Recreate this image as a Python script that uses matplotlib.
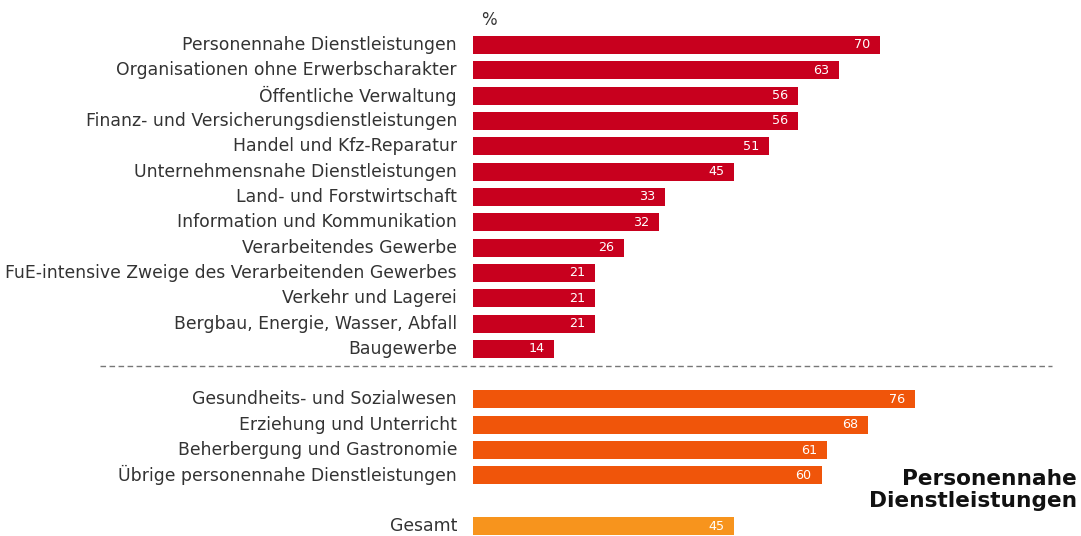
import matplotlib
matplotlib.use("Agg")
import matplotlib.pyplot as plt

categories = [
    "Personennahe Dienstleistungen",
    "Organisationen ohne Erwerbscharakter",
    "Öffentliche Verwaltung",
    "Finanz- und Versicherungsdienstleistungen",
    "Handel und Kfz-Reparatur",
    "Unternehmensnahe Dienstleistungen",
    "Land- und Forstwirtschaft",
    "Information und Kommunikation",
    "Verarbeitendes Gewerbe",
    "FuE-intensive Zweige des Verarbeitenden Gewerbes",
    "Verkehr und Lagerei",
    "Bergbau, Energie, Wasser, Abfall",
    "Baugewerbe",
]
values = [70, 63, 56, 56, 51, 45, 33, 32, 26, 21, 21, 21, 14]

sub_categories = [
    "Gesundheits- und Sozialwesen",
    "Erziehung und Unterricht",
    "Beherbergung und Gastronomie",
    "Übrige personennahe Dienstleistungen",
]
sub_values = [76, 68, 61, 60]

total_label = "Gesamt"
total_value = 45

title = "Personennahe\nDienstleistungen"

RED = "#C8001E"
ORANGE = "#F0550A"
LIGHT = "#F7941D"
TXT = "#333333"

W, H = 1081, 536
fig = plt.figure(figsize=(W / 100, H / 100), dpi=100)
ax_left = 473 / W
ax_w = 581 / W
ax = fig.add_axes([ax_left, 0, ax_w, 1])
ax.set_xlim(0, 100)
row0_px = 45
step = 25.32
ax.set_ylim((H - row0_px) / step, -row0_px / step)
ax.axis("off")

rows = []
for i, (c, v) in enumerate(zip(categories, values)):
    rows.append((i, c, v, RED))
for j, (c, v) in enumerate(zip(sub_categories, sub_values)):
    rows.append((14 + j, c, v, ORANGE))
rows.append((19, total_label, total_value, LIGHT))

bh = 0.71
for y, c, v, col in rows:
    ax.barh(y, v, height=bh, color=col, edgecolor="none")
    ax.text(v - 1.7, y, str(v), ha="right", va="center", color="white",
            fontsize=9.2, family="DejaVu Sans")
    ax.text(-16 / 5.81, y, c, ha="right", va="center", color=TXT,
            fontsize=12.45, family="DejaVu Sans", clip_on=False)

ax.text(2.75, -1.0, "%", ha="center", va="center", color=TXT, fontsize=12,
        family="DejaVu Sans")

# dashed separator
sep_y = 1 - 366 / H
fig.add_artist(plt.Line2D([100 / W, 1052 / W], [sep_y, sep_y],
                          transform=fig.transFigure, color="#777777",
                          lw=1.0, linestyle=(0, (4, 2.5))))

fig.text(1077 / W, 1 - 490 / H, title, ha="right", va="center", fontsize=15.6,
         fontweight="bold", family="DejaVu Sans", color="#111111", linespacing=1.15)

fig.savefig("out.png", dpi=100)
